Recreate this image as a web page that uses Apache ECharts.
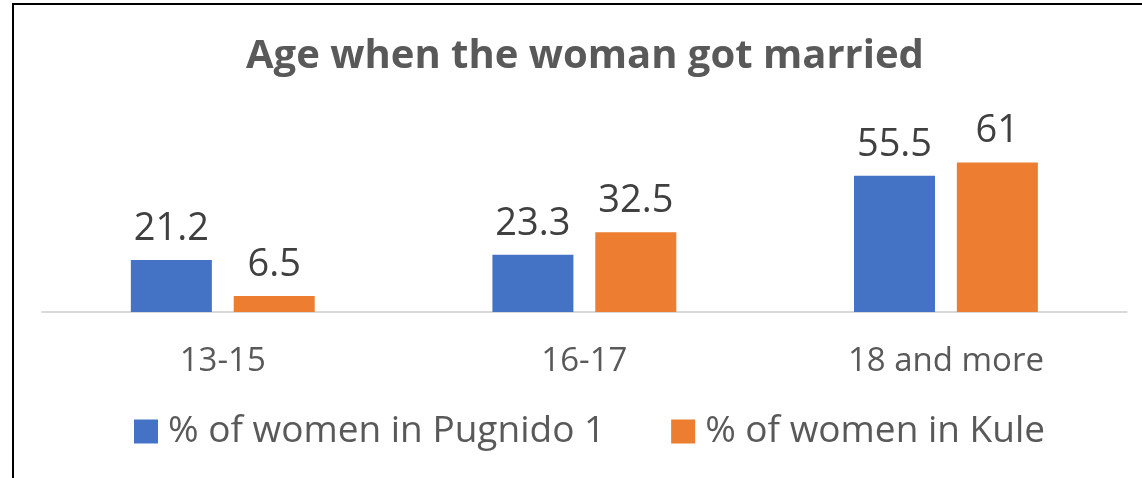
<!DOCTYPE html>
<html>
<head>
<meta charset="utf-8">
<script src="https://cdn.jsdelivr.net/npm/echarts@6/dist/echarts.min.js"></script>
<style>
  html, body { margin: 0; padding: 0; background: #fff; }
  #chart { width: 1142px; height: 478px; }
</style>
</head>
<body>
<div id="chart"></div>
<script>
// Data
const categories = ["13-15", "16-17", "18 and more"];
const pugnidoValues = [21.2, 23.3, 55.5];
const kuleValues = [6.5, 32.5, 61];
const seriesNames = ["% of women in Pugnido 1", "% of women in Kule"];

const chart = echarts.init(document.getElementById("chart"));

const labelStyle = {
  show: true,
  position: "top",
  distance: 12,
  color: "#404040",
  fontSize: 38,
  fontFamily: "Open Sans"
};

const option = {
  animation: false,
  textStyle: { fontFamily: "Open Sans" },
  title: {
    text: "Age when the woman got married",
    left: 246,
    top: 37,
    padding: 0,
    textStyle: { fontSize: 40, fontWeight: "bold", color: "#595959", fontFamily: "Open Sans" }
  },
  graphic: [
    {
      type: "rect",
      shape: { x: 13, y: 4, width: 1300, height: 600 },
      style: { fill: "none", stroke: "#000", lineWidth: 2 },
      silent: true
    }
  ],
  legend: {
    data: seriesNames,
    top: 413,
    left: 134,
    padding: 0,
    itemWidth: 24,
    itemHeight: 24,
    itemGap: 66,
    icon: "rect",
    textStyle: { fontSize: 37, color: "#595959", padding: [0, 0, 0, 5] }
  },
  grid: { left: 42, right: 15.3, top: 140.3, bottom: 166 },
  xAxis: {
    type: "category",
    data: categories,
    axisLine: { lineStyle: { color: "#d9d9d9", width: 2 } },
    axisTick: { show: false },
    axisLabel: { color: "#595959", fontSize: 33, margin: 33 }
  },
  yAxis: {
    type: "value",
    min: 0,
    max: 70,
    show: false,
    splitLine: { show: false }
  },
  series: [
    {
      name: seriesNames[0],
      type: "bar",
      data: pugnidoValues,
      barWidth: 81,
      barGap: "27%",
      itemStyle: { color: "#4472c4" },
      label: labelStyle
    },
    {
      name: seriesNames[1],
      type: "bar",
      data: kuleValues,
      barWidth: 81,
      barGap: "27%",
      itemStyle: { color: "#ed7d31" },
      label: labelStyle
    }
  ]
};

chart.setOption(option);
window.addEventListener("resize", function () {
  chart.resize();
});
</script>
</body>
</html>
